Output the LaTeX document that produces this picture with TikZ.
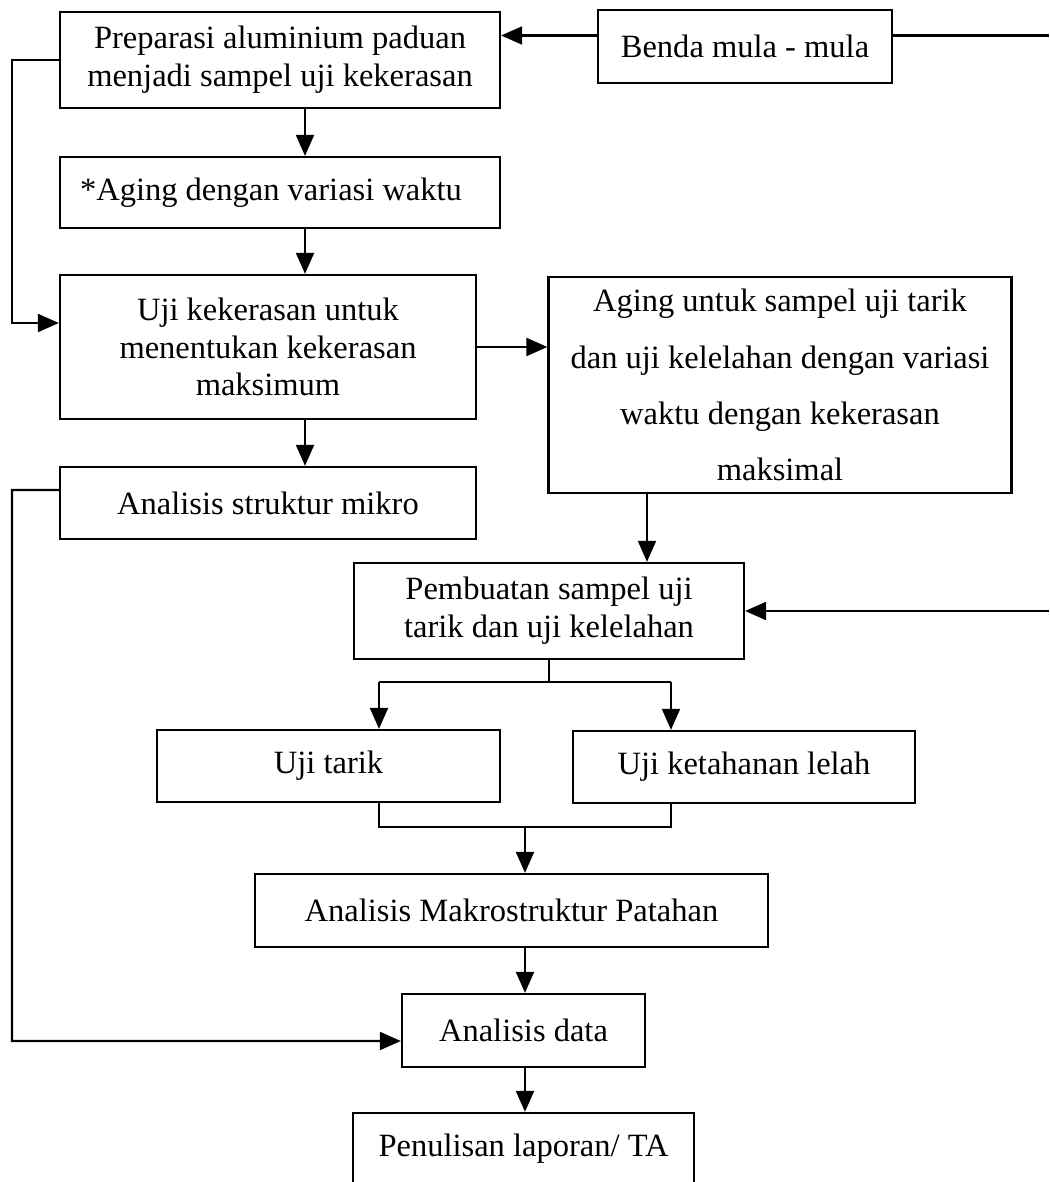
\documentclass[tikz,border=0pt]{standalone}
\usepackage{fontspec}
\setmainfont{Liberation Serif}
\usetikzlibrary{arrows.meta,positioning,calc}

\begin{document}
\begin{tikzpicture}[
  box/.style={draw, rectangle, line width=1.3pt, inner sep=0pt, align=center,
              font=\fontsize{18.5}{21.5}\selectfont},
  lnk/.style={-{Triangle[length=0.42cm, width=0.36cm]}, line width=1.2pt},
  ln/.style={line width=1.2pt},
]
\useasboundingbox (0,0) rectangle (20.98,-23.64);

\node[box, minimum width=8.8cm, minimum height=1.92cm] (prep) at (5.6,-1.2)
  {Preparasi aluminium paduan \\ menjadi sampel uji kekerasan};
\node[box, minimum width=5.88cm, minimum height=1.46cm] (benda) at (14.9,-0.93)
  {Benda mula - mula};
\node[box, minimum width=8.8cm, minimum height=1.42cm] (aging) at (5.6,-3.85)
  {\hspace*{-0.36cm}*Aging dengan variasi waktu};
\node[box, minimum width=8.32cm, minimum height=2.88cm] (ukeras) at (5.36,-6.94)
  {Uji kekerasan untuk \\ menentukan kekerasan \\ maksimum};
\node[box, minimum width=9.26cm, minimum height=4.32cm,
      font=\fontsize{18.5}{32}\selectfont] (agingtarik) at (15.6,-7.7)
  {Aging untuk sampel uji tarik \\ dan uji kelelahan dengan variasi \\
   waktu dengan kekerasan \\ maksimal};
\node[box, minimum width=8.32cm, minimum height=1.44cm] (mikro) at (5.36,-10.06)
  {Analisis struktur mikro};
\node[box, minimum width=7.8cm, minimum height=1.92cm] (pemb) at (10.98,-12.22)
  {Pembuatan sampel uji \\ tarik dan uji kelelahan};
\node[box, minimum width=6.86cm, minimum height=1.44cm] (tarik) at (6.57,-15.32)
  {Uji tarik};
\node[box, minimum width=6.84cm, minimum height=1.44cm] (lelah) at (14.88,-15.34)
  {Uji ketahanan lelah};
\node[box, minimum width=10.26cm, minimum height=1.46cm] (makro) at (10.23,-18.21)
  {Analisis Makrostruktur Patahan};
\node[box, minimum width=4.86cm, minimum height=1.46cm] (data) at (10.47,-20.61)
  {Analisis data};
\node[box, minimum width=6.82cm, minimum height=1.44cm] (lapor) at (10.47,-22.98)
  {Penulisan laporan/ TA};

\coordinate (rtop) at (20.98,-0.71);
\coordinate (rmid) at (20.98,-12.22);
\coordinate (bl) at ([yshift=0.22cm]benda.west);
\coordinate (cx) at (6.1,0);
\coordinate (a2out) at (12.94,0);
\coordinate (ta) at (7.58,-13.64);
\coordinate (tb) at (13.42,-13.64);
\coordinate (ma) at (7.58,-16.54);
\coordinate (mb) at (13.42,-16.54);
\coordinate (mj) at (10.5,-16.54);

\draw[lnk] (bl) -- (bl -| prep.east);
\draw[ln] (benda.east |- rtop) -- (rtop);
\draw[lnk] (cx |- prep.south) -- (cx |- aging.north);
\draw[lnk] (cx |- aging.south) -- (cx |- ukeras.north);
\draw[lnk] (cx |- ukeras.south) -- (cx |- mikro.north);
\draw[lnk] (prep.west) -- (0.24,-1.2) |- ([yshift=0.48cm]ukeras.west);
\draw[lnk] (ukeras.east) -- (ukeras.east -| agingtarik.west);
\draw[lnk] (a2out |- agingtarik.south) -- (a2out |- pemb.north);
\draw[lnk] (rmid) -- (pemb.east);
\draw[ln] (pemb.south) -- (pemb.south |- ta);
\draw[ln] (ta) -- (tb);
\draw[lnk] (ta) -- (ta |- tarik.north);
\draw[lnk] (tb) -- (tb |- lelah.north);
\draw[ln] (ma |- tarik.south) -- (ma) -- (mb) -- (mb |- lelah.south);
\draw[lnk] (mj) -- (mj |- makro.north);
\draw[lnk] (mj |- makro.south) -- (mj |- data.north);
\draw[lnk] (mj |- data.south) -- (mj |- lapor.north);
\draw[lnk] ([yshift=0.26cm]mikro.west) -- (0.24,-9.8) |- ([yshift=-0.21cm]data.west);
\end{tikzpicture}
\end{document}
